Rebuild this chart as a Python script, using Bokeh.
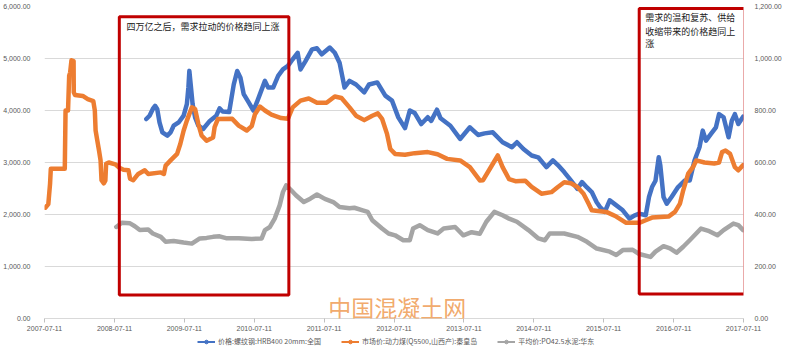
import pandas as pd
from bokeh.plotting import figure
from bokeh.layouts import column
from bokeh.models import (Range1d, LinearAxis, FixedTicker, DatetimeTickFormatter,
                          NumeralTickFormatter, BoxAnnotation, Label, Legend, LegendItem,
                          ColumnDataSource)
from bokeh.embed import file_html
from bokeh.resources import INLINE

# ---------------- data ----------------
X_TICKS = ["2007-07-11", "2008-07-11", "2009-07-11", "2010-07-11", "2011-07-11", "2012-07-11",
           "2013-07-11", "2014-07-11", "2015-07-11", "2016-07-11", "2017-07-11"]
LEFT_TICKS = [0, 1000, 2000, 3000, 4000, 5000, 6000]
RIGHT_TICKS = [0, 200, 400, 600, 800, 1000, 1200]

LEGEND_LABELS = ["价格:螺纹钢:HRB400 20mm:全国",
                 "市场价:动力煤(Q5500,山西产):秦皇岛",
                 "平均价:PO42.5水泥:华东"]

# 螺纹钢 (left axis)
BLUE_DATES = ["2008-12-24", "2009-01-10", "2009-01-27", "2009-02-08", "2009-02-19", "2009-03-03",
              "2009-03-18", "2009-04-13", "2009-04-30", "2009-05-16", "2009-06-11", "2009-07-07",
              "2009-07-24", "2009-08-01", "2009-08-06", "2009-08-13", "2009-08-23", "2009-09-05",
              "2009-09-22", "2009-10-17", "2009-11-21", "2009-12-25", "2010-01-11", "2010-01-27",
              "2010-03-02", "2010-03-26", "2010-04-13", "2010-04-30", "2010-05-17", "2010-06-12",
              "2010-07-07", "2010-07-24", "2010-08-10", "2010-09-05", "2010-09-22", "2010-10-18",
              "2010-11-13", "2010-12-08", "2011-01-03", "2011-01-28", "2011-02-23", "2011-03-10",
              "2011-04-05", "2011-05-09", "2011-06-04", "2011-06-29", "2011-08-10", "2011-09-05",
              "2011-09-30", "2011-10-26", "2011-11-21", "2011-12-25", "2012-02-06", "2012-03-02",
              "2012-04-14", "2012-05-26", "2012-06-30", "2012-08-02", "2012-09-06", "2012-10-01",
              "2012-10-27", "2012-11-30", "2013-01-03", "2013-01-21", "2013-02-20", "2013-03-11",
              "2013-05-01", "2013-06-21", "2013-08-11", "2013-09-23", "2013-10-27", "2013-12-09",
              "2014-01-29", "2014-03-19", "2014-04-14", "2014-05-18", "2014-06-30", "2014-08-03",
              "2014-09-15", "2014-10-19", "2014-11-14", "2014-12-17", "2015-01-21", "2015-02-24",
              "2015-03-20", "2015-04-15", "2015-05-10", "2015-06-04", "2015-06-22", "2015-07-17",
              "2015-08-12", "2015-09-07", "2015-10-19", "2015-11-23", "2015-12-18", "2016-01-13",
              "2016-02-16", "2016-03-04", "2016-03-20", "2016-04-07", "2016-04-24", "2016-05-02",
              "2016-05-19", "2016-06-05", "2016-06-30", "2016-08-03", "2016-09-08", "2016-10-03",
              "2016-10-28", "2016-11-23", "2016-12-10", "2016-12-27", "2017-01-22", "2017-02-17",
              "2017-03-05", "2017-03-29", "2017-04-24", "2017-05-11", "2017-05-27", "2017-06-14",
              "2017-07-09"]
BLUE_VALUES = [3836, 3900, 4030, 4090, 4030, 3772, 3580, 3517, 3580, 3707, 3770, 3900,
               4122, 4443, 4762, 4500, 4122, 3868, 3707, 3645, 3800, 3900, 4040, 3980,
               3970, 4500, 4760, 4630, 4315, 4155, 4000, 4150, 4315, 4570, 4440, 4440,
               4665, 4790, 4857, 4985, 5110, 4790, 4950, 5175, 5196, 5080, 5210, 5110,
               4920, 4443, 4570, 4500, 4347, 4500, 4540, 4285, 4190, 3868, 3660, 4000,
               3950, 3740, 3870, 3800, 4015, 3850, 3707, 3453, 3677, 3530, 3560, 3580,
               3390, 3294, 3390, 3260, 3135, 3100, 2911, 3040, 2950, 2815, 2656, 2495,
               2623, 2520, 2432, 2240, 2145, 2050, 2273, 2200, 2080, 1920, 1980, 2017,
               1985, 2336, 2528, 2650, 3102, 2950, 2336, 2208, 2336, 2528, 2656, 2656,
               3040, 3294, 3613, 3420, 3550, 3677, 3930, 3870, 3485, 3805, 3930, 3740,
               3880]

# 动力煤 (right axis)
ORANGE_DATES = ["2007-07-15", "2007-07-31", "2007-08-09", "2007-08-13", "2007-10-25", "2007-10-29",
                "2007-11-11", "2007-11-17", "2007-11-22", "2007-11-29", "2007-12-10", "2007-12-11",
                "2007-12-17", "2008-01-27", "2008-02-22", "2008-03-22", "2008-03-30", "2008-04-03",
                "2008-04-12", "2008-04-21", "2008-04-29", "2008-05-04", "2008-05-16", "2008-05-24",
                "2008-05-28", "2008-06-11", "2008-07-15", "2008-08-05", "2008-08-27", "2008-09-22",
                "2008-09-30", "2008-10-17", "2008-11-12", "2008-12-16", "2009-01-03", "2009-03-10",
                "2009-03-26", "2009-04-04", "2009-04-30", "2009-06-03", "2009-06-20", "2009-07-07",
                "2009-07-24", "2009-08-19", "2009-09-05", "2009-09-22", "2009-10-09", "2009-11-04",
                "2009-12-08", "2009-12-16", "2010-01-02", "2010-03-18", "2010-04-21", "2010-06-02",
                "2010-06-28", "2010-07-15", "2010-08-10", "2010-09-05", "2010-10-09", "2010-11-29",
                "2011-01-03", "2011-01-28", "2011-03-10", "2011-04-22", "2011-06-04", "2011-07-24",
                "2011-09-05", "2011-10-10", "2011-11-21", "2011-12-25", "2012-02-06", "2012-03-19",
                "2012-04-17", "2012-05-09", "2012-06-04", "2012-06-21", "2012-07-16", "2012-09-06",
                "2012-10-27", "2013-01-03", "2013-02-23", "2013-04-14", "2013-06-21", "2013-08-11",
                "2013-10-02", "2013-10-19", "2013-11-22", "2014-01-04", "2014-01-29", "2014-03-04",
                "2014-04-06", "2014-05-27", "2014-06-30", "2014-08-20", "2014-10-11", "2014-11-14",
                "2014-12-17", "2015-01-21", "2015-02-24", "2015-03-28", "2015-04-23", "2015-05-10",
                "2015-07-25", "2015-09-15", "2015-11-06", "2016-01-13", "2016-02-16", "2016-03-20",
                "2016-06-14", "2016-07-18", "2016-08-13", "2016-08-30", "2016-09-25", "2016-10-20",
                "2016-11-06", "2016-12-19", "2017-02-08", "2017-03-05", "2017-03-21", "2017-04-08",
                "2017-05-02", "2017-05-27", "2017-06-14", "2017-07-09"]
ORANGE_VALUES = [426, 440, 518, 576, 576, 800, 800, 934, 946, 993, 990, 870,
                 860, 856, 844, 836, 800, 724, 684, 646, 608, 532, 520, 530,
                 595, 600, 593, 580, 572, 570, 538, 532, 556, 570, 556, 562,
                 556, 588, 608, 633, 672, 722, 761, 812, 806, 748, 704, 684,
                 696, 736, 767, 768, 742, 723, 740, 786, 815, 800, 784, 771,
                 768, 812, 838, 846, 830, 830, 854, 848, 812, 780, 763, 780,
                 789, 768, 710, 652, 633, 630, 636, 640, 632, 614, 608, 582,
                 531, 532, 574, 627, 582, 536, 528, 530, 506, 480, 486, 506,
                 524, 520, 506, 480, 442, 416, 410, 392, 368, 368, 378, 388,
                 392, 410, 442, 493, 557, 582, 608, 600, 596, 600, 640, 646,
                 633, 582, 570, 590]

# 水泥 (right axis)
GRAY_DATES = ["2008-07-20", "2008-08-18", "2008-09-30", "2008-10-25", "2008-11-20", "2009-01-03",
              "2009-01-27", "2009-03-10", "2009-04-04", "2009-05-16", "2009-07-07", "2009-08-19",
              "2009-09-30", "2009-11-04", "2009-12-08", "2010-01-11", "2010-02-14", "2010-04-21",
              "2010-06-28", "2010-08-19", "2010-09-05", "2010-10-01", "2010-10-26", "2010-11-21",
              "2010-12-08", "2010-12-25", "2011-01-19", "2011-02-14", "2011-03-27", "2011-04-30",
              "2011-06-04", "2011-07-15", "2011-08-28", "2011-09-30", "2011-11-21", "2011-12-16",
              "2012-01-29", "2012-02-24", "2012-03-19", "2012-05-09", "2012-06-12", "2012-07-16",
              "2012-08-28", "2012-10-01", "2012-10-18", "2012-11-22", "2013-01-03", "2013-02-23",
              "2013-03-27", "2013-05-26", "2013-07-08", "2013-08-20", "2013-10-02", "2013-11-05",
              "2013-12-17", "2014-01-29", "2014-03-04", "2014-04-14", "2014-06-13", "2014-08-04",
              "2014-09-07", "2014-10-02", "2014-12-17", "2015-02-24", "2015-04-15", "2015-06-05",
              "2015-08-12", "2015-09-15", "2015-10-19", "2015-12-10", "2016-01-13", "2016-03-12",
              "2016-04-07", "2016-05-19", "2016-06-22", "2016-07-26", "2016-08-30", "2016-10-03",
              "2016-12-01", "2017-01-13", "2017-02-25", "2017-03-29", "2017-05-19", "2017-06-14",
              "2017-07-09"]
GRAY_VALUES = [352, 368, 366, 355, 340, 342, 327, 314, 295, 298, 292, 288,
               308, 310, 314, 316, 309, 309, 306, 308, 340, 352, 384, 435,
               486, 512, 494, 474, 448, 461, 477, 460, 448, 429, 424, 426,
               416, 410, 378, 346, 327, 320, 301, 301, 346, 359, 340, 327,
               346, 352, 320, 332, 326, 372, 410, 397, 384, 372, 340, 308,
               301, 327, 327, 314, 295, 269, 257, 244, 263, 264, 248, 237,
               257, 278, 270, 253, 276, 301, 346, 336, 320, 340, 365, 359,
               340]

NOTE_1 = "四万亿之后，需求拉动的价格趋同上涨"
NOTE_2 = ["需求的温和复苏、供给", "收缩带来的价格趋同上", "涨"]
WATERMARK = "中国混凝土网"

BLUE = "#4472C4"
ORANGE = "#ED7D31"
GRAY = "#A5A5A5"
RED = "#C00000"
CJK = "Noto Sans CJK SC"
TICK_FONT = "Liberation Sans"
TICK_COLOR = "#595959"
TICK_SIZE = "7px"


def ms(s):
    return pd.Timestamp(s).value / 1e6


p = figure(width=784, height=333, x_axis_type="datetime", output_backend="svg",
           toolbar_location=None,
           x_range=Range1d(ms(X_TICKS[0]), ms(X_TICKS[-1])),
           y_range=Range1d(LEFT_TICKS[0], LEFT_TICKS[-1]),
           min_border_left=41, min_border_right=26, min_border_top=6, min_border_bottom=0)
p.extra_y_ranges = {"right": Range1d(RIGHT_TICKS[0], RIGHT_TICKS[-1])}
p.outline_line_color = None
p.background_fill_color = "white"
p.border_fill_color = "white"

# x axis
xa = p.xaxis[0]
xa.ticker = FixedTicker(ticks=[ms(t) for t in X_TICKS])
fmt = "%Y-%m-%d"
xa.formatter = DatetimeTickFormatter(years=fmt, months=fmt, days=fmt, hours=fmt,
                                     hourmin=fmt, minutes=fmt, minsec=fmt, seconds=fmt,
                                     milliseconds=fmt, microseconds=fmt)
xa.axis_line_color = "#d9d9d9"
xa.major_tick_line_color = "#bfbfbf"
xa.major_tick_out = 4
xa.major_tick_in = 0
xa.minor_tick_line_color = None
xa.major_label_standoff = 3
xa.major_label_text_font = TICK_FONT
xa.major_label_text_font_size = TICK_SIZE
xa.major_label_text_color = TICK_COLOR

# left axis
ya = p.yaxis[0]
ya.ticker = FixedTicker(ticks=LEFT_TICKS)
ya.formatter = NumeralTickFormatter(format="0,0.00")
ya.axis_line_color = None
ya.major_tick_line_color = None
ya.minor_tick_line_color = None
ya.major_label_standoff = 8
ya.major_label_text_font = TICK_FONT
ya.major_label_text_font_size = TICK_SIZE
ya.major_label_text_color = TICK_COLOR

# right axis
ra = LinearAxis(y_range_name="right", ticker=FixedTicker(ticks=RIGHT_TICKS),
                formatter=NumeralTickFormatter(format="0,0.00"),
                axis_line_color=None, major_tick_line_color=None, minor_tick_line_color=None,
                major_label_standoff=5, major_label_text_font=TICK_FONT,
                major_label_text_font_size=TICK_SIZE, major_label_text_color=TICK_COLOR)
p.add_layout(ra, "right")

p.xgrid.grid_line_color = None
p.ygrid.grid_line_color = "#d9d9d9"
p.ygrid.ticker = FixedTicker(ticks=LEFT_TICKS)

# series
blue_src = ColumnDataSource(dict(x=pd.to_datetime(BLUE_DATES), y=BLUE_VALUES))
orange_src = ColumnDataSource(dict(x=pd.to_datetime(ORANGE_DATES), y=ORANGE_VALUES))
gray_src = ColumnDataSource(dict(x=pd.to_datetime(GRAY_DATES), y=GRAY_VALUES))

p.line("x", "y", source=blue_src, line_color=BLUE, line_width=4.5,
       line_join="round", line_cap="round")
p.line("x", "y", source=orange_src, line_color=ORANGE, line_width=4.5,
       line_join="round", line_cap="round", y_range_name="right")
p.line("x", "y", source=gray_src, line_color=GRAY, line_width=4.5,
       line_join="round", line_cap="round", y_range_name="right")

# highlight boxes
p.add_layout(BoxAnnotation(left=ms("2008-08-05"), right=ms("2011-01-08"), bottom=454, top=5802,
                           fill_alpha=0, line_color=RED, line_alpha=1, line_width=3))
p.add_layout(BoxAnnotation(left=ms("2016-01-13"), right=ms("2017-07-18"), bottom=473, top=5961,
                           fill_alpha=0, line_color=RED, line_alpha=1, line_width=3))

# notes
p.add_layout(Label(x=ms("2008-09-12"), y=5611, text=NOTE_1, text_font=CJK,
                   text_font_size="9px", text_color="#1a1a1a", text_baseline="middle"))
for t, yv in zip(NOTE_2, [5783, 5528, 5285]):
    p.add_layout(Label(x=ms("2016-02-14"), y=yv, text=t, text_font=CJK,
                       text_font_size="9px", text_color="#1a1a1a", text_baseline="middle"))

# watermark
p.add_layout(Label(x=ms("2011-08-02"), y=230, text=WATERMARK, text_font=CJK,
                   text_font_size="23px", text_color="#F0A05A", text_alpha=0.9,
                   text_baseline="middle"))

# ---------------- legend strip ----------------
lf = figure(width=784, height=13, output_backend="svg", toolbar_location=None,
            x_range=Range1d(0, 1), y_range=Range1d(0, 1), min_border=0,
            x_axis_location=None, y_axis_location=None)
lf.grid.visible = False
lf.outline_line_color = None
items = []
for lab, col in zip(LEGEND_LABELS, [BLUE, ORANGE, GRAY]):
    # sample glyphs placed outside the strip's visible range; only their legend swatch shows
    lr = lf.line(x=[-2, -1], y=[-2, -1], line_color=col, line_width=2)
    sr = lf.scatter(x=[-2], y=[-2], marker="circle", size=4.5, fill_color=col, line_color=col)
    items.append(LegendItem(label=lab, renderers=[lr, sr]))
legend = Legend(items=items, orientation="horizontal", location=(153, 0),
                label_text_font=CJK, label_text_font_size="7px", label_text_color=TICK_COLOR,
                glyph_width=18, glyph_height=9, label_height=9, label_standoff=3,
                spacing=20, padding=1, margin=0, border_line_color=None,
                background_fill_alpha=0)
lf.add_layout(legend)

open("out.html", "w").write(file_html(column(p, lf, spacing=0), INLINE))
